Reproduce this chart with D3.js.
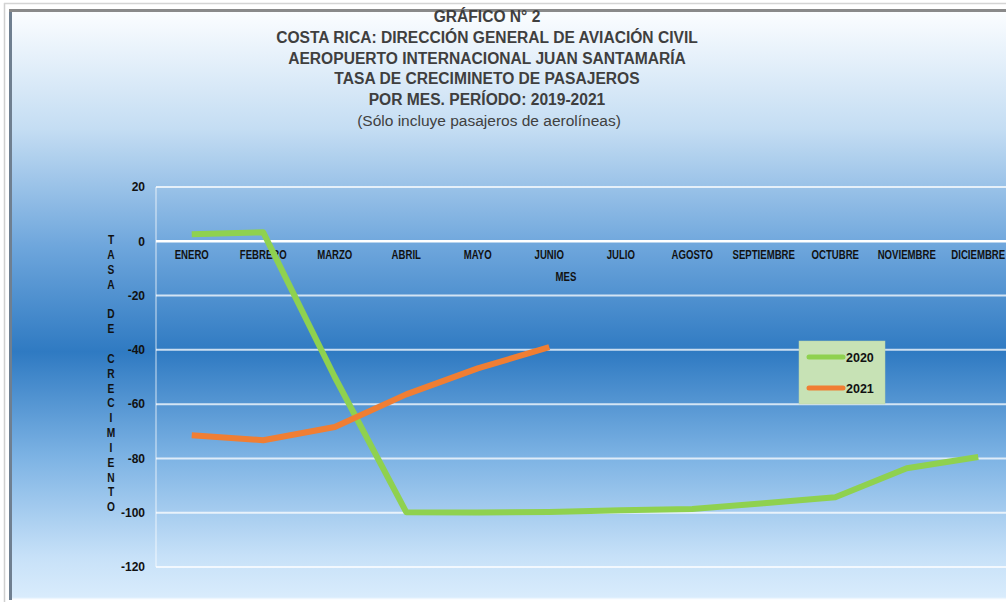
<!DOCTYPE html>
<html>
<head>
<meta charset="utf-8">
<script src="https://cdn.jsdelivr.net/npm/d3@7"></script>
<style>
  body { margin: 0; background: #fff; }
  svg { display: block; }
</style>
</head>
<body>
<svg id="chart" width="1006" height="602"></svg>
<script>
var months = ["ENERO", "FEBRERO", "MARZO", "ABRIL", "MAYO", "JUNIO", "JULIO",
              "AGOSTO", "SEPTIEMBRE", "OCTUBRE", "NOVIEMBRE", "DICIEMBRE"];
var values2020 = [2.6, 3.3, -50, -99.8, -99.9, -99.7, -99.1, -98.6, -96.5, -94.3, -83.6, -79.5];
var values2021 = [-71.5, -73.3, -68.4, -56.4, -46.8, -39];
var yTicks = [20, 0, -20, -40, -60, -80, -100, -120];
var titleLines = ["GRÁFICO N° 2",
                  "COSTA RICA: DIRECCIÓN GENERAL DE AVIACIÓN CIVIL",
                  "AEROPUERTO INTERNACIONAL JUAN SANTAMARÍA",
                  "TASA DE CRECIMINETO DE PASAJEROS",
                  "POR MES.  PERÍODO: 2019-2021"];
var subtitle = "(Sólo incluye pasajeros de aerolíneas)";
var yTitle = "TASA DE CRECIMIENTO";
var series = [
    {name: "2020", values: values2020, color: "#8fd14f"},
    {name: "2021", values: values2021, color: "#f07e33"}
];

var font = "Liberation Sans, Arial, sans-serif";
var svg = d3.select("#chart");

// background gradient like the Excel preset
var defs = svg.append("defs");
var grad = defs.append("linearGradient")
    .attr("id", "bg").attr("x1", 0).attr("y1", 0).attr("x2", 0).attr("y2", 1);
[[0, "#fbfdff"], [0.2, "#c4ddf3"], [0.4, "#6ea6dc"], [0.58, "#2f7ac2"],
 [0.76, "#7db3e4"], [0.93, "#c7e1f8"], [1, "#d9ecfc"]].forEach(function(s){
    grad.append("stop").attr("offset", s[0]).attr("stop-color", s[1]);
});

svg.append("rect").attr("x", 12).attr("y", 12).attr("width", 1000).attr("height", 586)
    .attr("fill", "url(#bg)");

// frame
svg.append("line").attr("x1", 4.5).attr("y1", 3).attr("x2", 4.5).attr("y2", 602)
    .attr("stroke", "#cfcfcf").attr("stroke-width", 1.5);
svg.append("line").attr("x1", 4).attr("y1", 3.5).attr("x2", 1006).attr("y2", 3.5)
    .attr("stroke", "#d4d4d4").attr("stroke-width", 1.5);
svg.append("line").attr("x1", 10.5).attr("y1", 10).attr("x2", 10.5).attr("y2", 600)
    .attr("stroke", "#6f7f90").attr("stroke-width", 3);
svg.append("line").attr("x1", 9).attr("y1", 10.5).attr("x2", 1006).attr("y2", 10.5)
    .attr("stroke", "#8a8a8a").attr("stroke-width", 3);
svg.append("line").attr("x1", 12).attr("y1", 598.5).attr("x2", 1006).attr("y2", 598.5)
    .attr("stroke", "#eef6fd").attr("stroke-width", 1.5);

var x = d3.scaleBand().domain(months).range([156, 156 + 12 * 71.5]);
var y = d3.scaleLinear().domain([-120, 20]).range([567, 187]);
function cx(d) { return x(d) + x.bandwidth() / 2; }

// gridlines
svg.append("g").selectAll("line").data(yTicks).join("line")
    .attr("x1", 156).attr("x2", 1006)
    .attr("y1", function(d){ return y(d); }).attr("y2", function(d){ return y(d); })
    .attr("stroke", function(d){ return d === 0 ? "#ffffff" : "rgba(255,255,255,0.75)"; })
    .attr("stroke-width", function(d){ return d === 0 ? 2.5 : 2; });

svg.append("line").attr("x1", 156).attr("x2", 156).attr("y1", y(20)).attr("y2", y(-120))
    .attr("stroke", "rgba(255,255,255,0.5)").attr("stroke-width", 1.5);

// y axis (plain hyphen for negatives, like the original)
var yAxis = d3.axisLeft(y).tickValues(yTicks).tickSize(0).tickPadding(11)
    .tickFormat(function(d){ return String(d); });
var gy = svg.append("g").attr("transform", "translate(156,0)").call(yAxis);
gy.select(".domain").remove();
gy.selectAll("text").attr("font-family", font)
    .attr("font-size", 12).attr("font-weight", "bold").attr("fill", "#111");

// x axis labels sit on the zero line, squeezed to look like a narrow face
var xAxis = d3.axisBottom(x).tickSize(0).tickPadding(9);
var gx = svg.append("g").attr("transform", "translate(0," + y(0) + ")").call(xAxis);
gx.select(".domain").remove();
gx.selectAll("text").attr("font-family", font)
    .attr("font-size", 12).attr("font-weight", "bold").attr("fill", "#111")
    .attr("transform", "scale(0.8,1)");

svg.append("text").attr("transform", "translate(566,281) scale(0.8,1)")
    .attr("text-anchor", "middle").attr("font-family", font).attr("font-size", 12)
    .attr("font-weight", "bold").attr("fill", "#111").text("MES");

// vertical stacked y title
svg.append("g").selectAll("text").data(yTitle.split("")).join("text")
    .attr("transform", function(d, i){ return "translate(111," + (244 + i * 14.85) + ") scale(0.85,1)"; })
    .attr("text-anchor", "middle").attr("font-family", font).attr("font-size", 12)
    .attr("font-weight", "bold").attr("fill", "#111").text(function(d){ return d; });

// lines
var line = d3.line()
    .x(function(d, i){ return cx(months[i]); })
    .y(function(d){ return y(d); });

series.forEach(function(s){
    svg.append("path").attr("d", line(s.values))
        .attr("fill", "none").attr("stroke", s.color)
        .attr("stroke-width", 6).attr("stroke-linejoin", "round");
});

// legend
var lg = svg.append("g").attr("transform", "translate(799,341)");
lg.append("rect").attr("width", 86).attr("height", 63).attr("fill", "#c7e2b5")
    .attr("stroke", "#b9d3a8").attr("stroke-width", 0.5);
series.forEach(function(s, i){
    var yy = 16 + i * 31;
    lg.append("line").attr("x1", 10).attr("x2", 44).attr("y1", yy).attr("y2", yy)
        .attr("stroke", s.color).attr("stroke-width", 5).attr("stroke-linecap", "round");
    lg.append("text").attr("x", 47).attr("y", yy + 5)
        .attr("font-family", font)
        .attr("font-size", 12.5).attr("font-weight", "bold").attr("fill", "#111").text(s.name);
});

// titles
svg.append("g").selectAll("text").data(titleLines).join("text")
    .attr("x", 487).attr("y", function(d, i){ return 22 + i * 20.8; })
    .attr("text-anchor", "middle")
    .attr("font-family", font)
    .attr("font-size", 15.6).attr("font-weight", "bold").attr("fill", "#3f3f3f")
    .text(function(d){ return d; });
svg.append("text").attr("x", 489).attr("y", 126).attr("text-anchor", "middle")
    .attr("font-family", font)
    .attr("font-size", 15.5).attr("fill", "#404040").text(subtitle);
</script>
</body>
</html>
